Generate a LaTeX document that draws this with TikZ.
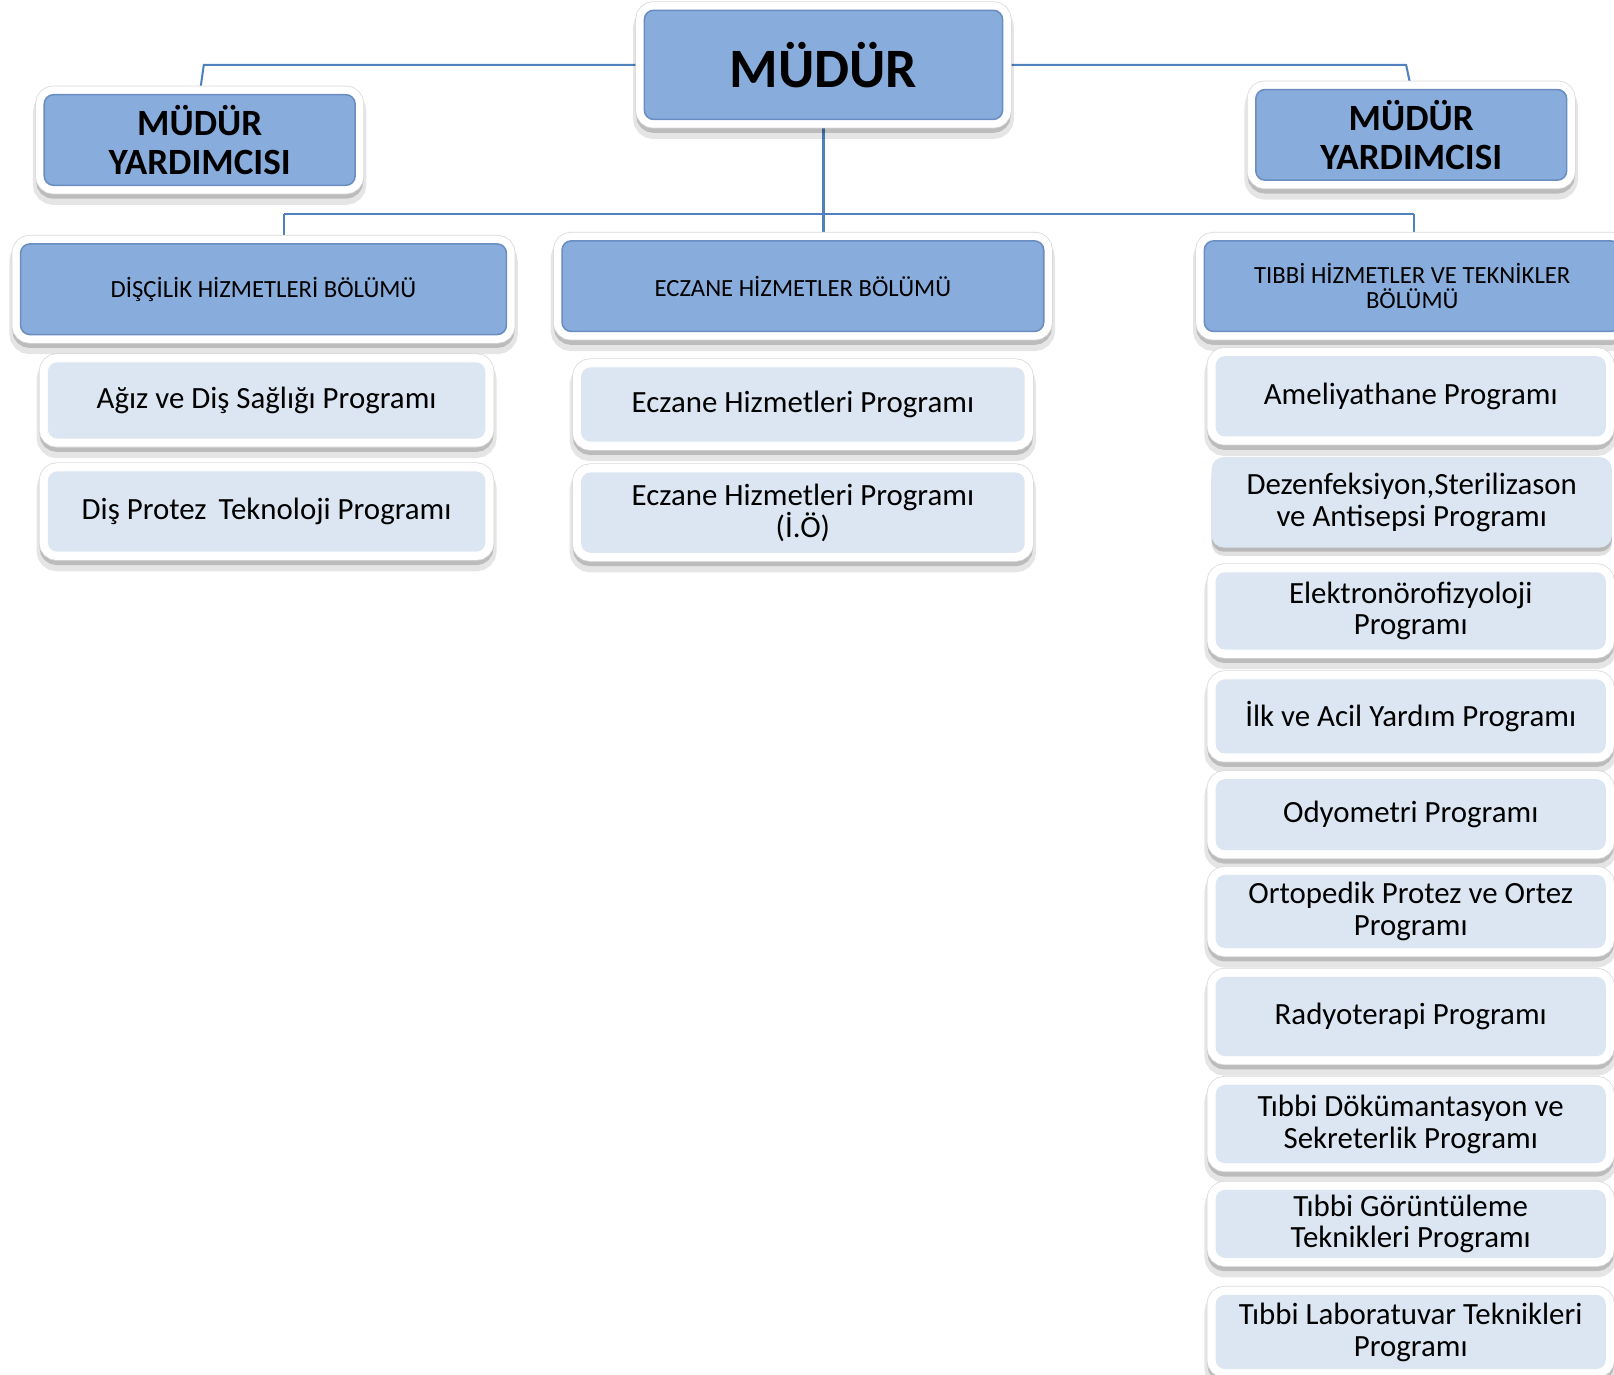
\documentclass[tikz,border=0pt]{standalone}
\usepackage{fontspec}
\setmainfont{Carlito}
\usepackage{tikz}
\usetikzlibrary{backgrounds}

\definecolor{boxblue}{HTML}{88ACDB}
\definecolor{edgeblue}{HTML}{6A8DC2}
\definecolor{progfill}{HTML}{DCE6F2}
\definecolor{linkblue}{HTML}{4F81BD}

\tikzset{
  softshadow/.style={
    preaction={draw=black, opacity=0.10, line width=22pt, transform canvas={yshift=-8pt}},
    preaction={draw=black, opacity=0.18, line width=16pt, transform canvas={yshift=-5pt}}},
  flatshadow/.style={
    preaction={fill=black, opacity=0.12, transform canvas={yshift=-8pt}},
    preaction={fill=black, opacity=0.18, transform canvas={yshift=-4pt}}},
  framed/.style={softshadow,
    preaction={draw=black!15, line width=17.5pt},
    preaction={draw=white, line width=16pt}},
  headbox/.style={framed, fill=boxblue, draw=edgeblue, line width=1.5pt,
    rounded corners=9pt, inner sep=0pt, align=center},
  yrdbox/.style={minimum width=302pt, minimum height=88pt,
    font=\fontsize{36}{38}\selectfont\bfseries},
  deptbox/.style={minimum height=88pt, font=\fontsize{24}{24.5}\selectfont},
  progbox/.style={framed, fill=progfill, rounded corners=9pt, inner sep=0pt,
    align=center, font=\fontsize{30}{31}\selectfont},
  rightcol/.style={progbox, minimum width=379pt},
  link/.style={draw=linkblue, line width=2pt}
}

\begin{document}
\begin{tikzpicture}[x=1pt,y=-1pt]
\useasboundingbox (0,0) rectangle (1568,1335);

% top level
\node[headbox, minimum width=348pt, minimum height=106pt,
  font=\fontsize{54}{60}\selectfont\bfseries] (mudur) at (800,63) {MÜDÜR};
\node[headbox, yrdbox] (yrdL) at (194,136) {MÜDÜR\\YARDIMCISI};
\node[headbox, yrdbox] (yrdR) at (1371,131) {MÜDÜR\\YARDIMCISI};

% departments
\node[headbox, deptbox, minimum width=472pt] (depD) at (256,281) {DİŞÇİLİK HİZMETLERİ BÖLÜMÜ};
\node[headbox, deptbox, minimum width=468pt] (depE) at (780,278) {ECZANE HİZMETLER BÖLÜMÜ};
\node[headbox, deptbox, minimum width=404pt] (depT) at (1372,278) {TIBBİ HİZMETLER VE TEKNİKLER\\BÖLÜMÜ};

% programs
\node[progbox, minimum width=425pt, minimum height=74pt] (agiz) at (259,389) {Ağız ve Diş Sağlığı Programı};
\node[progbox, minimum width=425pt, minimum height=78pt] (protez) at (259,497) {Diş Protez\, Teknoloji Programı};

\node[progbox, minimum width=431pt, minimum height=72pt] (ecz1) at (780,393) {Eczane Hizmetleri Programı};
\node[progbox, minimum width=431pt, minimum height=78pt] (ecz2) at (780,498) {Eczane Hizmetleri Programı\\(İ.Ö)};

\node[rightcol, minimum height=78pt] (amel) at (1370.5,385) {Ameliyathane Programı};
\node[flatshadow, fill=progfill, rounded corners=12pt, inner sep=0pt, align=center,
  font=\fontsize{30}{31}\selectfont, minimum width=389pt, minimum height=88pt]
  (dezen) at (1371.5,488) {Dezenfeksiyon,Sterilizason\\ve Antisepsi Programı};
\node[rightcol, minimum height=75pt] (elek) at (1370.5,593.5) {Elektronörofizyoloji\\Programı};
\node[rightcol, minimum height=72pt] (ilk) at (1370.5,696) {İlk ve Acil Yardım Programı};
\node[rightcol, minimum height=69pt] (odyo) at (1370.5,791.5) {Odyometri Programı};
\node[rightcol, minimum height=71pt] (orto) at (1370.5,885.5) {Ortopedik Protez ve Ortez\\Programı};
\node[rightcol, minimum height=77pt] (radyo) at (1370.5,987.5) {Radyoterapi Programı};
\node[rightcol, minimum height=76pt] (dokum) at (1370.5,1092) {Tıbbi Dökümantasyon ve\\Sekreterlik Programı};
\node[rightcol, minimum height=66pt] (gorun) at (1370.5,1189) {Tıbbi Görüntüleme\\Teknikleri Programı};
\node[rightcol, minimum height=72pt] (lab) at (1370.5,1294) {Tıbbi Laboratuvar Teknikleri\\Programı};

% connectors
\coordinate (kneeL) at (198,63);
\coordinate (kneeR) at (1366,63);
\coordinate (busL) at (276,208);
\coordinate (busR) at (1374,208);
\begin{scope}[on background layer]
\draw[link] (mudur.west) -- (kneeL) -- (yrdL.north);
\draw[link] (mudur.east) -- (kneeR) -- (yrdR.north);
\draw[link] (mudur.south) -- (mudur.south |- depE.north);
\draw[link] (busL) -- (busR);
\draw[link] (busL) -- (busL |- depD.north);
\draw[link] (busR) -- (busR |- depT.north);
\end{scope}

\end{tikzpicture}
\end{document}
